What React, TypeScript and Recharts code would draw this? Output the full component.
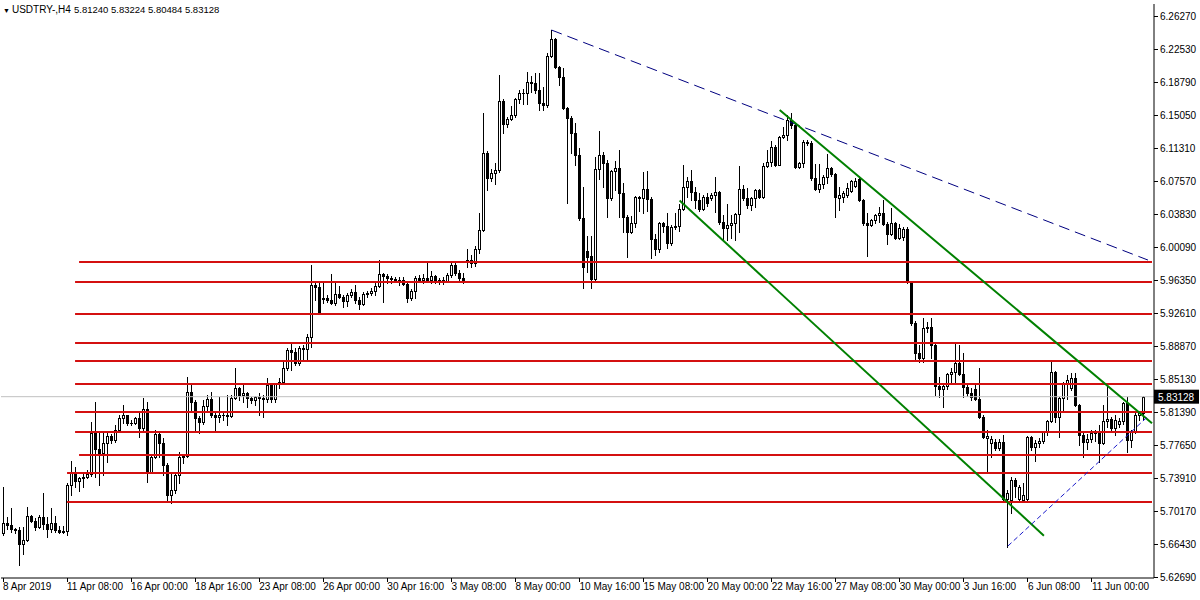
import { ComposedChart, Bar, XAxis, YAxis, ReferenceLine } from 'recharts'

// USDTRY H4 candles (oldest first)
const opens = [
  5.677, 5.688, 5.686, 5.681, 5.680, 5.664, 5.669, 5.696, 5.690, 5.684,
  5.695, 5.687, 5.681, 5.688, 5.680, 5.678, 5.679, 5.731, 5.745, 5.736,
  5.739, 5.740, 5.744, 5.790, 5.772, 5.767, 5.779, 5.787, 5.782, 5.794,
  5.807, 5.810, 5.801, 5.802, 5.807, 5.796, 5.817, 5.746, 5.763, 5.789,
  5.779, 5.754, 5.720, 5.726, 5.742, 5.763, 5.764, 5.837, 5.825, 5.807,
  5.803, 5.821, 5.829, 5.810, 5.808, 5.810, 5.811, 5.809, 5.830, 5.841,
  5.833, 5.835, 5.830, 5.828, 5.831, 5.830, 5.829, 5.844, 5.829, 5.846,
  5.848, 5.864, 5.884, 5.882, 5.869, 5.886, 5.885, 5.899, 5.958, 5.956,
  5.942, 5.943, 5.941, 5.937, 5.948, 5.944, 5.940, 5.947, 5.950, 5.941,
  5.936, 5.948, 5.949, 5.951, 5.957, 5.970, 5.968, 5.966, 5.965, 5.964,
  5.963, 5.959, 5.943, 5.951, 5.966, 5.963, 5.966, 5.963, 5.968, 5.962,
  5.963, 5.962, 5.969, 5.980, 5.971, 5.966, 5.984, 5.986, 5.983, 5.999,
  6.020, 6.107, 6.079, 6.085, 6.088, 6.166, 6.140, 6.146, 6.150, 6.169,
  6.175, 6.176, 6.188, 6.187, 6.179, 6.164, 6.162, 6.217, 6.237, 6.205,
  6.194, 6.158, 6.147, 6.130, 6.105, 6.034, 5.996, 5.991, 5.965, 6.089,
  6.105, 6.096, 6.056, 6.087, 6.090, 6.062, 6.035, 6.018, 6.028, 6.058,
  6.057, 6.067, 6.055, 6.010, 5.999, 6.028, 6.025, 6.005, 6.024, 6.025,
  6.044, 6.069, 6.076, 6.063, 6.054, 6.044, 6.058, 6.057, 6.060, 6.063,
  6.029, 6.022, 6.026, 6.028, 6.038, 6.067, 6.056, 6.048, 6.056, 6.066,
  6.058, 6.093, 6.097, 6.114, 6.094, 6.126, 6.128, 6.145, 6.139, 6.092,
  6.096, 6.120, 6.119, 6.079, 6.067, 6.072, 6.080, 6.090, 6.084, 6.056,
  6.058, 6.060, 6.064, 6.070, 6.078, 6.054, 6.028, 6.026, 6.032, 6.037,
  6.040, 6.027, 6.016, 6.028, 6.011, 6.012, 6.021, 5.961, 5.915, 5.881,
  5.875, 5.909, 5.910, 5.890, 5.843, 5.840, 5.843, 5.857, 5.859, 5.869,
  5.857, 5.842, 5.835, 5.840, 5.829, 5.808, 5.784, 5.779, 5.780, 5.773,
  5.780, 5.715, 5.714, 5.737, 5.715, 5.714, 5.715, 5.786, 5.774, 5.779,
  5.781, 5.791, 5.804, 5.859, 5.808, 5.830, 5.847, 5.841, 5.852, 5.822,
  5.788, 5.780, 5.783, 5.790, 5.791, 5.779, 5.804, 5.806, 5.796, 5.800,
  5.804, 5.824, 5.782, 5.791, 5.811, 5.8124,
]

const highs = [
  5.729, 5.695, 5.705, 5.682, 5.684, 5.684, 5.706, 5.697, 5.694, 5.697,
  5.722, 5.695, 5.705, 5.696, 5.685, 5.685, 5.733, 5.758, 5.752, 5.740,
  5.745, 5.748, 5.803, 5.825, 5.791, 5.790, 5.790, 5.789, 5.799, 5.810,
  5.822, 5.811, 5.805, 5.808, 5.814, 5.830, 5.825, 5.765, 5.794, 5.791,
  5.784, 5.756, 5.746, 5.746, 5.769, 5.765, 5.854, 5.847, 5.828, 5.809,
  5.828, 5.833, 5.837, 5.814, 5.831, 5.814, 5.833, 5.833, 5.864, 5.842,
  5.844, 5.837, 5.831, 5.832, 5.835, 5.833, 5.852, 5.847, 5.847, 5.852,
  5.871, 5.886, 5.891, 5.886, 5.889, 5.890, 5.902, 5.980, 5.960, 5.960,
  5.960, 5.947, 5.970, 5.960, 5.957, 5.947, 5.949, 5.953, 5.958, 5.944,
  5.950, 5.951, 5.954, 5.960, 5.986, 5.971, 5.970, 5.968, 5.967, 5.967,
  5.967, 5.961, 5.953, 5.968, 5.969, 5.970, 5.984, 5.974, 5.969, 5.966,
  5.967, 5.971, 5.983, 5.984, 5.975, 5.971, 5.999, 5.992, 6.002, 6.039,
  6.153, 6.110, 6.089, 6.096, 6.196, 6.169, 6.148, 6.161, 6.170, 6.179,
  6.180, 6.199, 6.195, 6.198, 6.198, 6.182, 6.221, 6.247, 6.238, 6.206,
  6.204, 6.160, 6.149, 6.141, 6.113, 6.069, 6.013, 6.013, 6.103, 6.132,
  6.109, 6.100, 6.088, 6.098, 6.111, 6.073, 6.037, 6.036, 6.059, 6.059,
  6.086, 6.087, 6.058, 6.016, 6.029, 6.029, 6.039, 6.026, 6.039, 6.050,
  6.094, 6.080, 6.088, 6.069, 6.062, 6.060, 6.062, 6.062, 6.080, 6.064,
  6.037, 6.050, 6.037, 6.039, 6.093, 6.071, 6.068, 6.058, 6.067, 6.067,
  6.096, 6.111, 6.121, 6.116, 6.127, 6.137, 6.150, 6.153, 6.141, 6.097,
  6.122, 6.122, 6.121, 6.095, 6.095, 6.082, 6.106, 6.092, 6.085, 6.069,
  6.064, 6.073, 6.077, 6.079, 6.081, 6.055, 6.039, 6.033, 6.038, 6.046,
  6.054, 6.029, 6.045, 6.029, 6.027, 6.024, 6.024, 5.962, 5.917, 5.890,
  5.921, 5.916, 5.920, 5.892, 5.854, 5.844, 5.858, 5.864, 5.893, 5.890,
  5.881, 5.844, 5.841, 5.845, 5.864, 5.810, 5.794, 5.787, 5.783, 5.783,
  5.788, 5.726, 5.740, 5.739, 5.731, 5.733, 5.787, 5.787, 5.782, 5.784,
  5.792, 5.805, 5.871, 5.860, 5.831, 5.848, 5.856, 5.858, 5.858, 5.823,
  5.790, 5.789, 5.794, 5.794, 5.799, 5.822, 5.844, 5.808, 5.810, 5.807,
  5.825, 5.831, 5.794, 5.814, 5.814, 5.83224,
]

const lows = [
  5.674, 5.681, 5.678, 5.677, 5.640, 5.653, 5.668, 5.689, 5.680, 5.682,
  5.681, 5.672, 5.678, 5.678, 5.677, 5.677, 5.674, 5.720, 5.729, 5.724,
  5.729, 5.739, 5.741, 5.740, 5.731, 5.742, 5.757, 5.779, 5.780, 5.791,
  5.801, 5.799, 5.799, 5.800, 5.786, 5.794, 5.735, 5.745, 5.762, 5.763,
  5.742, 5.714, 5.711, 5.722, 5.733, 5.756, 5.763, 5.816, 5.794, 5.790,
  5.800, 5.816, 5.808, 5.794, 5.803, 5.805, 5.799, 5.808, 5.829, 5.828,
  5.825, 5.820, 5.824, 5.822, 5.811, 5.808, 5.825, 5.825, 5.825, 5.841,
  5.847, 5.862, 5.862, 5.867, 5.867, 5.872, 5.872, 5.888, 5.941, 5.925,
  5.937, 5.939, 5.936, 5.935, 5.943, 5.933, 5.934, 5.944, 5.937, 5.931,
  5.935, 5.944, 5.947, 5.947, 5.956, 5.939, 5.960, 5.960, 5.961, 5.958,
  5.958, 5.939, 5.941, 5.943, 5.961, 5.960, 5.961, 5.960, 5.960, 5.959,
  5.959, 5.961, 5.967, 5.969, 5.963, 5.960, 5.978, 5.978, 5.979, 5.994,
  6.019, 6.066, 6.076, 6.072, 6.086, 6.130, 6.137, 6.145, 6.148, 6.164,
  6.163, 6.163, 6.177, 6.175, 6.156, 6.156, 6.160, 6.216, 6.204, 6.184,
  6.157, 6.051, 6.107, 6.094, 6.031, 5.954, 5.973, 5.954, 5.963, 6.078,
  6.069, 6.035, 6.054, 6.066, 6.035, 6.018, 5.990, 6.017, 6.024, 6.042,
  6.039, 6.042, 5.988, 5.992, 5.995, 6.018, 6.000, 6.003, 6.021, 6.019,
  6.043, 6.058, 6.054, 6.045, 6.042, 6.043, 6.047, 6.054, 6.041, 6.027,
  6.009, 6.009, 6.011, 6.009, 6.018, 6.054, 6.045, 6.043, 6.046, 6.056,
  6.057, 6.092, 6.093, 6.093, 6.094, 6.124, 6.122, 6.136, 6.090, 6.090,
  6.092, 6.117, 6.077, 6.066, 6.063, 6.068, 6.073, 6.081, 6.035, 6.043,
  6.052, 6.058, 6.063, 6.069, 6.053, 6.026, 5.991, 6.025, 6.028, 6.029,
  6.026, 6.004, 6.014, 6.010, 6.010, 6.009, 5.960, 5.912, 5.873, 5.871,
  5.871, 5.905, 5.875, 5.833, 5.831, 5.820, 5.840, 5.848, 5.848, 5.856,
  5.831, 5.832, 5.828, 5.828, 5.807, 5.784, 5.746, 5.763, 5.771, 5.771,
  5.714, 5.661, 5.699, 5.718, 5.714, 5.713, 5.714, 5.771, 5.758, 5.774,
  5.779, 5.788, 5.803, 5.803, 5.786, 5.814, 5.829, 5.839, 5.821, 5.776,
  5.763, 5.772, 5.780, 5.781, 5.757, 5.778, 5.797, 5.794, 5.788, 5.797,
  5.800, 5.769, 5.774, 5.790, 5.805, 5.80484,
]

const closes = [
  5.688, 5.686, 5.681, 5.680, 5.664, 5.669, 5.696, 5.690, 5.684, 5.695,
  5.687, 5.681, 5.688, 5.680, 5.678, 5.679, 5.731, 5.745, 5.736, 5.739,
  5.740, 5.744, 5.790, 5.772, 5.767, 5.779, 5.787, 5.782, 5.794, 5.807,
  5.810, 5.801, 5.802, 5.807, 5.796, 5.817, 5.746, 5.763, 5.789, 5.779,
  5.754, 5.720, 5.726, 5.742, 5.763, 5.764, 5.837, 5.825, 5.807, 5.803,
  5.821, 5.829, 5.810, 5.808, 5.810, 5.811, 5.809, 5.830, 5.841, 5.833,
  5.835, 5.830, 5.828, 5.831, 5.830, 5.829, 5.844, 5.829, 5.846, 5.848,
  5.864, 5.884, 5.882, 5.869, 5.886, 5.885, 5.899, 5.958, 5.956, 5.926,
  5.943, 5.941, 5.937, 5.948, 5.944, 5.940, 5.947, 5.950, 5.941, 5.936,
  5.948, 5.949, 5.951, 5.957, 5.970, 5.968, 5.966, 5.965, 5.964, 5.963,
  5.959, 5.943, 5.951, 5.966, 5.963, 5.966, 5.963, 5.968, 5.962, 5.963,
  5.962, 5.969, 5.980, 5.971, 5.966, 5.961, 5.986, 5.983, 5.999, 6.020,
  6.107, 6.079, 6.085, 6.088, 6.166, 6.140, 6.146, 6.150, 6.169, 6.175,
  6.176, 6.188, 6.187, 6.179, 6.164, 6.162, 6.217, 6.237, 6.205, 6.194,
  6.158, 6.147, 6.130, 6.105, 6.034, 5.978, 5.990, 5.965, 6.089, 6.105,
  6.096, 6.056, 6.087, 6.090, 6.062, 6.035, 6.018, 6.028, 6.058, 6.057,
  6.067, 6.055, 6.010, 5.999, 6.028, 6.025, 6.005, 6.024, 6.025, 6.044,
  6.069, 6.076, 6.063, 6.054, 6.044, 6.058, 6.051, 6.060, 6.063, 6.029,
  6.022, 6.026, 6.028, 6.038, 6.067, 6.056, 6.048, 6.056, 6.066, 6.058,
  6.093, 6.097, 6.114, 6.094, 6.126, 6.128, 6.145, 6.139, 6.092, 6.096,
  6.120, 6.119, 6.079, 6.067, 6.072, 6.080, 6.090, 6.084, 6.058, 6.060,
  6.062, 6.068, 6.076, 6.076, 6.054, 6.028, 6.026, 6.032, 6.037, 6.040,
  6.027, 6.016, 6.028, 6.011, 6.022, 6.021, 5.961, 5.915, 5.881, 5.875,
  5.909, 5.910, 5.890, 5.843, 5.840, 5.843, 5.857, 5.859, 5.869, 5.857,
  5.842, 5.835, 5.831, 5.829, 5.808, 5.786, 5.787, 5.783, 5.773, 5.780,
  5.715, 5.722, 5.737, 5.730, 5.729, 5.720, 5.786, 5.774, 5.779, 5.781,
  5.791, 5.804, 5.859, 5.808, 5.830, 5.847, 5.850, 5.852, 5.822, 5.788,
  5.780, 5.783, 5.790, 5.791, 5.779, 5.804, 5.806, 5.796, 5.805, 5.804,
  5.824, 5.782, 5.791, 5.811, 5.8124, 5.83128,
]

// bar index of each time label on the bottom scale
const timeTickBars = [0, 16, 32, 48, 64, 80, 96, 112, 128, 144, 160, 176, 192, 208, 224, 240, 256, 272]
const timeTickLabels = [
  '8 Apr 2019', '11 Apr 08:00', '16 Apr 00:00', '18 Apr 16:00', '23 Apr 08:00', '26 Apr 00:00',
  '30 Apr 16:00', '3 May 08:00', '8 May 00:00', '10 May 16:00', '15 May 08:00', '20 May 00:00',
  '22 May 16:00', '27 May 08:00', '30 May 00:00', '3 Jun 16:00', '6 Jun 08:00', '11 Jun 00:00',
]

const priceTicks = [
  5.6269, 5.6643, 5.7017, 5.7391, 5.7765, 5.8139, 5.8513, 5.8887, 5.9261,
  5.9635, 6.0009, 6.0383, 6.0757, 6.1131, 6.1505, 6.1879, 6.2253, 6.2627,
]

// horizontal support / resistance levels and the bar where each one starts
const levelPrices = [5.9839, 5.9612, 5.9249, 5.8921, 5.8717, 5.8456, 5.8139, 5.7912, 5.7652, 5.7448, 5.7119]
const levelStartBars = [19, 18, 18, 18, 18, 18, 18, 18, 19, 16, 16]

// trend lines: [bar, price] at each end
const dashedTrend = [[137, 6.2468], [286, 5.9861]]
const channelTop = [[194, 6.1561], [287, 5.8012]]
const channelBottom = [[169, 6.0537], [260, 5.6738]]
const supportTrend = [[251, 5.662], [286, 5.809]]

const lastPrice = 5.83128
const symbol = 'USDTRY-,H4'
const lastQuote = '5.81240 5.83224 5.80484 5.83128'

const FONT = "'Liberation Sans', Arial, sans-serif"

const rows = opens.map((o, i) => ({
  idx: i,
  open: o,
  high: highs[i],
  low: lows[i],
  close: closes[i],
  range: [lows[i], highs[i]],
}))
// two empty slots on the right, like the terminal's chart shift
const table = [...rows, { idx: rows.length }, { idx: rows.length + 1 }]

function Candle(props: any) {
  const { x, y, width, height, payload } = props
  if (!payload || payload.high == null || !(height >= 0)) return null
  const { open, close, high, low } = payload
  const span = high - low
  const px = span > 0 ? height / span : 0
  const at = (v: number) => Math.round(y + (high - v) * px)
  const c = Math.round(x + width / 2 - 0.5)
  const yHi = at(high)
  const yLo = at(low)
  const top = at(Math.max(open, close))
  const bot = at(Math.min(open, close))
  const up = close > open
  return (
    <g shapeRendering="crispEdges">
      <line x1={c + 0.5} y1={yHi} x2={c + 0.5} y2={yLo + 1} stroke="#000" strokeWidth={1} />
      {top === bot ? (
        <rect x={c - 1} y={top} width={3} height={1} fill="#000" />
      ) : up ? (
        <rect x={c - 0.5} y={top + 0.5} width={2} height={bot - top} fill="#fff" stroke="#000" strokeWidth={1} />
      ) : (
        <rect x={c - 1} y={top} width={3} height={bot - top + 1} fill="#000" />
      )}
    </g>
  )
}

function TimeTick({ x, y, payload }: any) {
  const i = timeTickBars.indexOf(payload.value)
  if (i < 0) return null
  return (
    <g>
      <line x1={x} y1={y} x2={x} y2={y + 4} stroke="#000" shapeRendering="crispEdges" />
      <text x={x} y={y + 12} fontSize={10} fontFamily={FONT} fill="#000">{timeTickLabels[i]}</text>
    </g>
  )
}

function PriceTick({ x, y, payload }: any) {
  return (
    <g>
      <line x1={x} y1={y} x2={x + 4} y2={y} stroke="#000" shapeRendering="crispEdges" />
      <text x={x + 6} y={y + 3.5} fontSize={10} fontFamily={FONT} fill="#000">{Number(payload.value).toFixed(5)}</text>
    </g>
  )
}

function PriceTag({ viewBox }: any) {
  if (!viewBox) return null
  const x = viewBox.x + viewBox.width
  const y = viewBox.y
  return (
    <g>
      <rect x={x} y={y - 7} width={45} height={14} fill="#000" />
      <text x={x + 4} y={y + 4} fontSize={10} fontFamily={FONT} fill="#fff">{lastPrice.toFixed(5)}</text>
    </g>
  )
}

const seg = (pts: number[][]) => pts.map(([bar, price]) => ({ x: bar, y: price }))

export default function App() {
  return (
    <div style={{ position: 'absolute', left: 0, top: 0, width: 1200, height: 600, background: '#fff' }}>
      <ComposedChart
        width={1200}
        height={600}
        data={table}
        margin={{ top: 4, right: 0, bottom: 0, left: 1 }}
        barCategoryGap={0}
      >
        <XAxis
          dataKey="idx"
          type="category"
          ticks={timeTickBars}
          interval={0}
          height={22}
          tickSize={0}
          tickMargin={0}
          tickLine={false}
          axisLine={{ stroke: '#000' }}
          tick={<TimeTick />}
        />
        <XAxis xAxisId="top" dataKey="idx" orientation="top" height={0} tick={false} tickLine={false} axisLine={{ stroke: '#000' }} />
        <YAxis
          orientation="right"
          type="number"
          domain={[5.6258, 6.2763]}
          allowDataOverflow
          ticks={priceTicks}
          interval={0}
          width={46}
          tickSize={0}
          tickMargin={0}
          tickLine={false}
          axisLine={{ stroke: '#000' }}
          tick={<PriceTick />}
        />
        <YAxis yAxisId="left" orientation="left" width={0} tick={false} tickLine={false} axisLine={{ stroke: '#000' }} />

        <ReferenceLine y={lastPrice} stroke="#c0c0c0" strokeWidth={1} label={(p: any) => <PriceTag {...p} />} />

        <Bar dataKey="range" shape={(p: any) => <Candle {...p} />} isAnimationActive={false} />

        {levelPrices.map((lv, i) => (
          <ReferenceLine
            key={lv}
            segment={[{ x: levelStartBars[i], y: lv }, { x: table.length - 1, y: lv }]}
            stroke="#d41010"
            strokeWidth={2}
          />
        ))}
        <ReferenceLine segment={seg(dashedTrend)} stroke="#000080" strokeWidth={1} strokeDasharray="11 6" />
        <ReferenceLine segment={seg(channelTop)} stroke="#008000" strokeWidth={2} />
        <ReferenceLine segment={seg(channelBottom)} stroke="#008000" strokeWidth={2} />
        <ReferenceLine segment={seg(supportTrend)} stroke="#1a1acc" strokeWidth={1} strokeDasharray="5 3" />
      </ComposedChart>
      <div
        style={{
          position: 'absolute', left: 3, top: 4, fontFamily: FONT, fontSize: 10,
          color: '#000', whiteSpace: 'pre', lineHeight: '12px',
        }}
      >
        <span style={{ fontSize: 7, marginRight: 2 }}>▼</span>
        <span>{symbol}</span>
        <span style={{ position: 'absolute', left: 71, fontSize: 9.5 }}>{lastQuote}</span>
      </div>
    </div>
  )
}
